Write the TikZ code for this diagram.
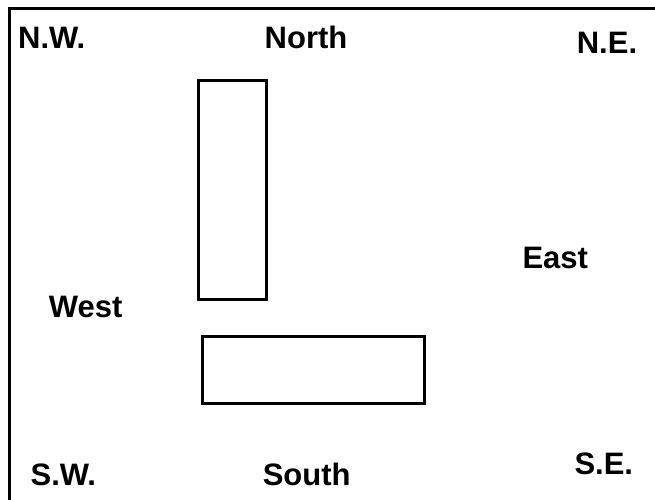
\documentclass[tikz,border=0pt]{standalone}
\usepackage{fontspec}
\setmainfont{Liberation Sans}
\begin{document}
\begin{tikzpicture}[x=1pt,y=-1pt,
  lbl/.style={font=\fontsize{31}{34}\selectfont\bfseries, inner sep=0pt, anchor=base},
  box/.style={draw=black, line width=3pt},
  frame/.style={draw=black, line width=3pt}]
\useasboundingbox (0,0) rectangle (655,499);
\draw[frame] (9,505) -- (9,8.5) -- (660,8.5);
\draw[box] (198,80) rectangle (266,299);
\draw[box] (202,336) rectangle (424,403);
\node[lbl] (nw) at (51.7,48) {N.W.};
\node[lbl] (n) at (306,48) {North};
\node[lbl] (ne) at (607,53) {N.E.};
\node[lbl] (w) at (85.7,317) {West};
\node[lbl] (e) at (555.3,268) {East};
\node[lbl] (sw) at (63.3,485) {S.W.};
\node[lbl] (s) at (306.7,485) {South};
\node[lbl] (se) at (603.8,474) {S.E.};
\end{tikzpicture}
\end{document}
